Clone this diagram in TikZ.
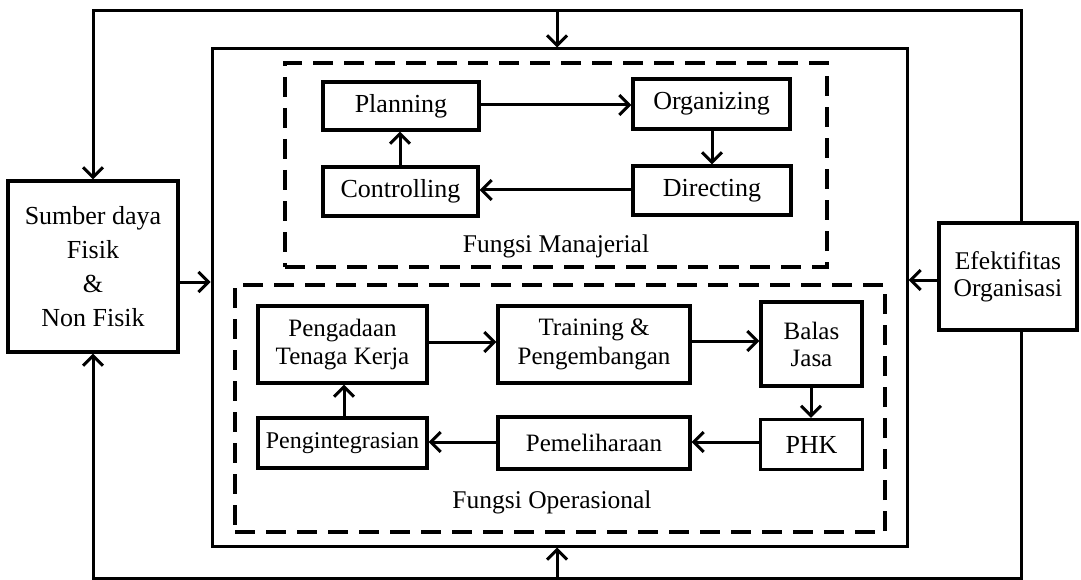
\documentclass[tikz,border=0pt]{standalone}
\usepackage{fontspec}
\setmainfont{Liberation Serif}
\usetikzlibrary{arrows.meta,calc}
\begin{document}
\begin{tikzpicture}[x=1pt,y=-1pt,
  box/.style={draw,line width=3.2pt,rectangle,inner sep=0pt,align=center,
    font=\fontsize{25}{28.5}\selectfont},
  dashbox/.style={draw,line width=3.2pt,dash pattern=on 20pt off 11pt,rectangle,inner sep=0pt},
  frame/.style={draw,line width=3pt,rectangle,inner sep=0pt},
  lbl/.style={font=\fontsize{25.5}{29}\selectfont,inner sep=0pt},
  arr/.style={line width=3pt,-{Straight Barb[length=10pt,width=20pt,line width=3pt]}},
  ln/.style={line width=3pt}]
\useasboundingbox (0,0) rectangle (1081,580);

% outer boxes
\node[frame,minimum width=695pt,minimum height=497pt] (main) at (559.5,297.5) {};
\node[dashbox,minimum width=542pt,minimum height=204pt] (man) at (556,165) {};
\node[dashbox,minimum width=650pt,minimum height=247pt] (ops) at (560,408.5) {};

% side boxes
\node[box,minimum width=170pt,minimum height=171pt,
  font=\fontsize{26}{34}\selectfont] (sumber) at (93,266.5) {Sumber daya\\Fisik\\\&\\Non Fisik};
\node[box,minimum width=138pt,minimum height=107pt,
  font=\fontsize{25.5}{27}\selectfont] (eff) at (1008,276.5) {Efektifitas\\Organisasi};

% managerial
\node[box,minimum width=156pt,minimum height=48pt,font=\fontsize{26}{29}\selectfont] (plan) at (401,106) {Planning};
\node[box,minimum width=157pt,minimum height=50pt,font=\fontsize{26}{29}\selectfont] (org) at (711.5,104) {Organizing};
\node[box,minimum width=155pt,minimum height=49pt,font=\fontsize{26}{29}\selectfont] (ctrl) at (400.5,191.5) {Controlling};
\node[box,minimum width=158pt,minimum height=49pt,font=\fontsize{26}{29}\selectfont] (dir) at (712,190.5) {Directing};
\node[lbl,anchor=base] (manl) at (556,252) {Fungsi Manajerial};

% operational
\node[box,minimum width=169pt,minimum height=77pt] (peng) at (342.5,344.5) {Pengadaan\\Tenaga Kerja};
\node[box,minimum width=192pt,minimum height=77pt] (train) at (594,344.5) {Training \&\\Pengembangan};
\node[box,minimum width=101pt,minimum height=84pt,
  font=\fontsize{25}{27}\selectfont] (balas) at (811.5,344) {Balas\\Jasa};
\node[box,minimum width=169pt,minimum height=50pt,font=\fontsize{24}{28}\selectfont] (integ) at (342.5,443) {Pengintegrasian};
\node[box,minimum width=192pt,minimum height=52pt] (pemel) at (594,443) {Pemeliharaan};
\node[box,minimum width=102pt,minimum height=50pt,font=\fontsize{26}{29}\selectfont] (phk) at (811.5,444.5) {PHK};
\node[lbl,anchor=base] (opsl) at (552,508) {Fungsi Operasional};

% coordinates for feedback loop
\coordinate (tl) at (93,11);
\coordinate (tr) at (1021,11);
\coordinate (tm) at (557,11);
\coordinate (bl) at (93,578);
\coordinate (br) at (1021,578);
\coordinate (bm) at (557,578);
\coordinate (ya) at (0,282);
\coordinate (yb) at (0,280);

% feedback loops
\draw[arr,line join=miter] (eff.north -| tr) -- (tr) -- (tl) -- (sumber.north);
\draw[arr] (tm) -- (main.north -| tm);
\draw[arr,line join=miter] (eff.south -| br) -- (br) -- (bl) -- (sumber.south);
\draw[arr] (bm) -- (main.south -| bm);
\draw[arr] (sumber.east |- ya) -- (main.west |- ya);
\draw[arr] (eff.west |- yb) -- (main.east |- yb);

% managerial arrows
\draw[arr] (plan.east |- 0,105) -- (org.west |- 0,105);
\draw[arr] (org.south -| 712,0) -- (dir.north -| 712,0);
\draw[arr] (dir.west |- 0,190) -- (ctrl.east |- 0,190);
\draw[arr] (ctrl.north -| 400,0) -- (plan.south -| 400,0);

% operational arrows
\draw[arr] (peng.east |- 0,342) -- (train.west |- 0,342);
\draw[arr] (train.east |- 0,341) -- (balas.west |- 0,341);
\draw[arr] (balas.south -| 811,0) -- (phk.north -| 811,0);
\draw[arr] (phk.west |- 0,442) -- (pemel.east |- 0,442);
\draw[arr] (pemel.west |- 0,442) -- (integ.east |- 0,442);
\draw[arr] (integ.north -| 344,0) -- (peng.south -| 344,0);
\end{tikzpicture}
\end{document}
